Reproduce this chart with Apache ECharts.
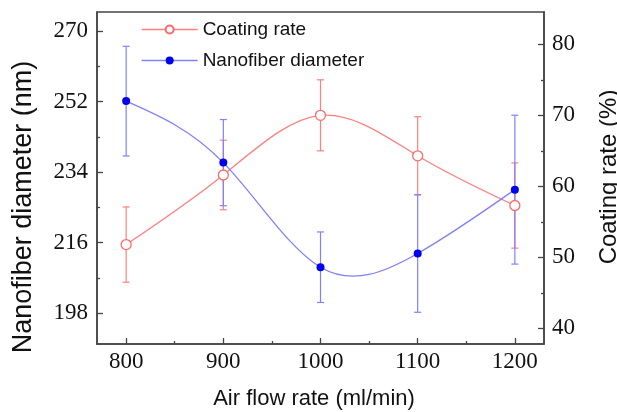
<!DOCTYPE html>
<html>
<head>
<meta charset="utf-8">
<script src="https://cdn.jsdelivr.net/npm/echarts@6/dist/echarts.min.js"></script>
<style>
  html, body { margin: 0; padding: 0; background: #fff; }
  #chart { width: 617px; height: 412px; }
</style>
</head>
<body>
<div id="chart"></div>
<script>
// Air flow rate (ml/min)
const airFlow = [800, 900, 1000, 1100, 1200];
// Nanofiber diameter (nm) and its standard deviation
const diameter = [252.1, 236.4, 209.7, 213.2, 229.5];
const diameterErr = [14.0, 11.0, 9.0, 15.0, 19.0];
// Coating rate (%) and its standard deviation
const coating = [51.8, 61.6, 70.0, 64.3, 57.3];
const coatingErr = [5.3, 4.9, 5.0, 5.5, 6.0];

// Tick positions
const xMajor = [800, 900, 1000, 1100, 1200];
const xMinor = [850, 950, 1050, 1150];
const leftMajor = [198, 216, 234, 252, 270];
const leftMinor = [207, 225, 243, 261];
const rightMajor = [40, 50, 60, 70, 80];
const rightMinor = [45, 55, 65, 75];

const AXIS_COLOR = '#444';
const RED_LINE = '#ff7f7f';
const BLUE_LINE = '#8080ff';
const SERIF = '"Liberation Serif", "Times New Roman", serif';
const SANS = '"Liberation Sans", Arial, sans-serif';

const pairs = (xs, ys) => xs.map((x, i) => [x, ys[i]]);
const bars = (xs, ys, es) => xs.map((x, i) => [x, ys[i] - es[i], ys[i] + es[i]]);

// Vertical error bar with short caps
function errorBar(color) {
  return function (params, api) {
    const x = api.value(0);
    const lo = api.coord([x, api.value(1)]);
    const hi = api.coord([x, api.value(2)]);
    const w = 3.5;
    const style = { stroke: color, lineWidth: 1.2 };
    return {
      type: 'group',
      children: [
        { type: 'line', shape: { x1: lo[0], y1: lo[1], x2: hi[0], y2: hi[1] }, style },
        { type: 'line', shape: { x1: hi[0] - w, y1: hi[1], x2: hi[0] + w, y2: hi[1] }, style },
        { type: 'line', shape: { x1: lo[0] - w, y1: lo[1], x2: lo[0] + w, y2: lo[1] }, style }
      ]
    };
  };
}

// Natural cubic spline through the points, returned as Bezier segments
function naturalSpline(pts) {
  const n = pts.length;
  const x = pts.map(p => p[0]);
  const y = pts.map(p => p[1]);
  const h = [];
  for (let i = 0; i < n - 1; i++) h.push(x[i + 1] - x[i]);
  const M = new Array(n).fill(0);
  if (n > 2) {
    const m = n - 2;
    const a = [], b = [], c = [], d = [];
    for (let k = 0; k < m; k++) {
      const i = k + 1;
      a.push(h[i - 1]);
      b.push(2 * (h[i - 1] + h[i]));
      c.push(h[i]);
      d.push(6 * ((y[i + 1] - y[i]) / h[i] - (y[i] - y[i - 1]) / h[i - 1]));
    }
    for (let k = 1; k < m; k++) {
      const w = a[k] / b[k - 1];
      b[k] -= w * c[k - 1];
      d[k] -= w * d[k - 1];
    }
    const sol = new Array(m);
    sol[m - 1] = d[m - 1] / b[m - 1];
    for (let k = m - 2; k >= 0; k--) sol[k] = (d[k] - c[k] * sol[k + 1]) / b[k];
    for (let k = 0; k < m; k++) M[k + 1] = sol[k];
  }
  const segs = [];
  for (let i = 0; i < n - 1; i++) {
    const hi = h[i];
    const slope = (y[i + 1] - y[i]) / hi;
    const s0 = slope - hi * (2 * M[i] + M[i + 1]) / 6;
    const s1 = slope + hi * (M[i] + 2 * M[i + 1]) / 6;
    segs.push({
      x1: x[i], y1: y[i], x2: x[i + 1], y2: y[i + 1],
      cpx1: x[i] + hi / 3, cpy1: y[i] + s0 * hi / 3,
      cpx2: x[i + 1] - hi / 3, cpy2: y[i + 1] - s1 * hi / 3
    });
  }
  return segs;
}

function splineCurve(xs, ys, color) {
  return function (params, api) {
    if (params.dataIndex !== 0) return null;
    const pts = xs.map((x, i) => api.coord([x, ys[i]]));
    return {
      type: 'group',
      children: naturalSpline(pts).map(shape => ({
        type: 'bezierCurve',
        shape,
        style: { stroke: color, lineWidth: 1.3, fill: null }
      }))
    };
  };
}

const chart = echarts.init(document.getElementById('chart'), null, { renderer: 'canvas' });

const majorAxisCommon = {
  type: 'value',
  splitLine: { show: false },
  axisLine: { show: true, lineStyle: { color: AXIS_COLOR, width: 1.5 } },
  axisTick: { show: true, inside: true, length: 6, lineStyle: { color: AXIS_COLOR, width: 1.3 } },
  axisLabel: { color: '#111', fontFamily: SERIF, fontSize: 23, formatter: v => String(v) }
};
const minorAxisCommon = {
  type: 'value',
  splitLine: { show: false },
  axisLine: { show: false },
  axisLabel: { show: false },
  axisTick: { show: true, inside: true, length: 3, lineStyle: { color: AXIS_COLOR, width: 1.3 } }
};

chart.setOption({
  animation: false,
  backgroundColor: '#fff',
  grid: {
    left: 97, right: 73, top: 12, bottom: 68,
    show: true, borderColor: AXIS_COLOR, borderWidth: 1.5, backgroundColor: 'transparent'
  },
  legend: {
    orient: 'vertical',
    left: 136,
    top: 15,
    itemWidth: 56,
    itemHeight: 10,
    itemGap: 12,
    textStyle: { fontFamily: SANS, fontSize: 19, color: '#111' },
    data: [
      { name: 'Coating rate', lineStyle: { color: RED_LINE, width: 1.3, opacity: 1 } },
      { name: 'Nanofiber diameter', lineStyle: { color: BLUE_LINE, width: 1.3, opacity: 1 } }
    ]
  },
  xAxis: [
    Object.assign({}, majorAxisCommon, {
      min: 770, max: 1230, position: 'bottom',
      axisTick: Object.assign({}, majorAxisCommon.axisTick, { customValues: xMajor }),
      axisLabel: Object.assign({}, majorAxisCommon.axisLabel, { customValues: xMajor, margin: 6 })
    }),
    Object.assign({}, minorAxisCommon, {
      min: 770, max: 1230, position: 'bottom',
      axisTick: Object.assign({}, minorAxisCommon.axisTick, { customValues: xMinor })
    })
  ],
  yAxis: [
    Object.assign({}, majorAxisCommon, {
      min: 190.1, max: 274.85, position: 'left',
      axisTick: Object.assign({}, majorAxisCommon.axisTick, { customValues: leftMajor }),
      axisLabel: Object.assign({}, majorAxisCommon.axisLabel, { customValues: leftMajor, margin: 9 })
    }),
    Object.assign({}, majorAxisCommon, {
      min: 37.8, max: 84.55, position: 'right',
      axisTick: Object.assign({}, majorAxisCommon.axisTick, { customValues: rightMajor }),
      axisLabel: Object.assign({}, majorAxisCommon.axisLabel, { customValues: rightMajor, margin: 8 })
    }),
    Object.assign({}, minorAxisCommon, {
      min: 190.1, max: 274.85, position: 'left',
      axisTick: Object.assign({}, minorAxisCommon.axisTick, { customValues: leftMinor })
    }),
    Object.assign({}, minorAxisCommon, {
      min: 37.8, max: 84.55, position: 'right',
      axisTick: Object.assign({}, minorAxisCommon.axisTick, { customValues: rightMinor })
    })
  ],
  graphic: [
    {
      type: 'text', x: 24, y: 207, rotation: Math.PI / 2,
      style: { text: 'Nanofiber diameter (nm)', font: '27px ' + SANS, fill: '#111', align: 'center', verticalAlign: 'middle' }
    },
    {
      type: 'text', x: 609, y: 177, rotation: Math.PI / 2,
      style: { text: 'Coating rate (%)', font: '24px ' + SANS, fill: '#111', align: 'center', verticalAlign: 'middle' }
    },
    {
      type: 'text', x: 314, y: 399,
      style: { text: 'Air flow rate (ml/min)', font: '22px ' + SANS, fill: '#111', align: 'center', verticalAlign: 'middle' }
    }
  ],
  series: [
    {
      name: 'Coating rate error',
      type: 'custom',
      xAxisIndex: 0, yAxisIndex: 1,
      renderItem: errorBar(RED_LINE),
      encode: { x: 0, y: [1, 2] },
      data: bars(airFlow, coating, coatingErr),
      z: 2
    },
    {
      name: 'Nanofiber diameter error',
      type: 'custom',
      xAxisIndex: 0, yAxisIndex: 0,
      renderItem: errorBar(BLUE_LINE),
      encode: { x: 0, y: [1, 2] },
      data: bars(airFlow, diameter, diameterErr),
      z: 2
    },
    {
      name: 'Coating rate curve',
      type: 'custom',
      xAxisIndex: 0, yAxisIndex: 1,
      renderItem: splineCurve(airFlow, coating, RED_LINE),
      encode: { x: 0, y: 1 },
      data: pairs(airFlow, coating),
      z: 3
    },
    {
      name: 'Nanofiber diameter curve',
      type: 'custom',
      xAxisIndex: 0, yAxisIndex: 0,
      renderItem: splineCurve(airFlow, diameter, BLUE_LINE),
      encode: { x: 0, y: 1 },
      data: pairs(airFlow, diameter),
      z: 3
    },
    {
      name: 'Coating rate',
      type: 'line',
      xAxisIndex: 0, yAxisIndex: 1,
      data: pairs(airFlow, coating),
      symbol: 'circle',
      symbolSize: 10,
      lineStyle: { color: RED_LINE, width: 1.3, opacity: 0 },
      itemStyle: { color: '#fff', borderColor: '#ff6a6a', borderWidth: 1.3 },
      z: 4
    },
    {
      name: 'Nanofiber diameter',
      type: 'line',
      xAxisIndex: 0, yAxisIndex: 0,
      data: pairs(airFlow, diameter),
      symbol: 'circle',
      symbolSize: 8,
      lineStyle: { color: BLUE_LINE, width: 1.3, opacity: 0 },
      itemStyle: { color: '#0000f0', borderColor: '#0000f0', borderWidth: 0 },
      z: 5
    }
  ]
});
</script>
</body>
</html>
